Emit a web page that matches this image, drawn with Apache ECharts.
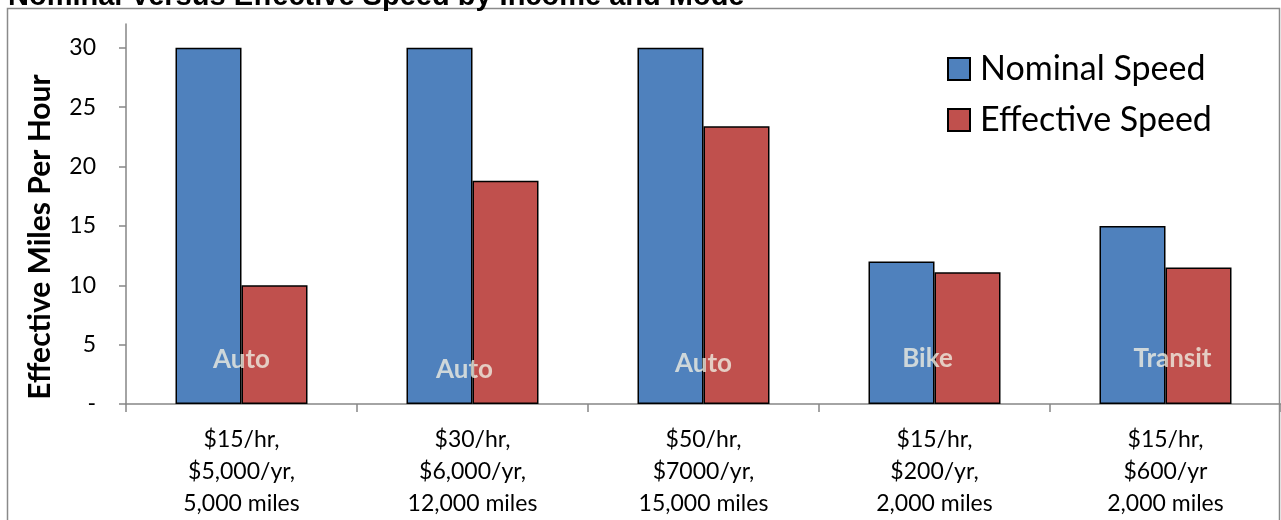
<!DOCTYPE html>
<html>
<head>
<meta charset="utf-8">
<title>Nominal Versus Effective Speed by Income and Mode</title>
<script src="https://cdn.jsdelivr.net/npm/echarts@6/dist/echarts.min.js"></script>
<style>
  html, body { margin: 0; padding: 0; background: #ffffff; }
  #chart { width: 1281px; height: 520px; }
</style>
</head>
<body>
<div id="chart"></div>
<script>
// Income / cost / mileage scenarios along the x axis
const categories = [
  '$15/hr,\n$5,000/yr,\n5,000 miles',
  '$30/hr,\n$6,000/yr,\n12,000 miles',
  '$50/hr,\n$7000/yr,\n15,000 miles',
  '$15/hr,\n$200/yr,\n2,000 miles',
  '$15/hr,\n$600/yr\n2,000 miles'
];
// Travel mode for each scenario
const modes = ['Auto', 'Auto', 'Auto', 'Bike', 'Transit'];
// Speeds in miles per hour
const nominalSpeed = [30, 30, 30, 12, 15];
const effectiveSpeed = [10, 18.8, 23.4, 11.1, 11.5];
// Y axis tick values
const yTicks = [0, 5, 10, 15, 20, 25, 30];

// Layout of the mode captions inside the bar pairs (mph height, px shift)
const modeCaptionHeight = [3.75, 2.9, 3.4, 3.8, 3.8];
const modeCaptionShift = [0, -8, 0, -7, 7];

const BLUE = '#4F81BD';
const RED = '#C0504D';
const AXIS_GREY = '#868686';
const FONT = 'Lato, "Open Sans", sans-serif';

const chart = echarts.init(document.getElementById('chart'), null, { renderer: 'canvas' });

const modeCaptions = modes.map((m, i) => ({
  value: [i, modeCaptionHeight[i]],
  name: m,
  label: { offset: [modeCaptionShift[i], 0] }
}));

chart.setOption({
  backgroundColor: '#ffffff',
  animation: false,
  graphic: [
    {
      type: 'rect',
      shape: { x: 7.5, y: 8.5, width: 1272, height: 560 },
      style: { fill: 'none', stroke: '#8a8a8a', lineWidth: 1.5 },
      z: 0
    },
    {
      type: 'text',
      x: 8, y: 11,
      style: {
        text: 'Nominal Versus Effective Speed by Income and Mode',
        font: 'bold 29px "Liberation Sans", Arial, sans-serif',
        fill: '#000000',
        textVerticalAlign: 'bottom'
      }
    },
    {
      type: 'text',
      x: 40, y: 237,
      rotation: Math.PI / 2,
      style: {
        text: 'Effective Miles Per Hour',
        font: 'bold 30px ' + FONT,
        fill: '#000000',
        textAlign: 'center',
        textVerticalAlign: 'middle'
      }
    }
  ],
  legend: {
    data: ['Nominal Speed', 'Effective Speed'],
    orient: 'vertical',
    left: 947,
    top: 52,
    padding: 0,
    itemWidth: 22,
    itemHeight: 22,
    itemGap: 17,
    icon: 'rect',
    textStyle: {
      fontFamily: FONT,
      fontSize: 34,
      color: '#000000',
      padding: [0, 0, 0, 5]
    }
  },
  grid: {
    left: 126,
    right: 0,
    top: 24,
    bottom: 113,
    containLabel: false
  },
  xAxis: {
    type: 'category',
    data: categories,
    axisLine: { show: true, lineStyle: { color: AXIS_GREY, width: 1.5 } },
    axisTick: { show: true, length: 8, lineStyle: { color: AXIS_GREY, width: 1.5 } },
    axisLabel: {
      fontFamily: FONT,
      fontSize: 23,
      lineHeight: 32,
      color: '#000000',
      margin: 20,
      interval: 0
    },
    splitLine: { show: false }
  },
  yAxis: {
    type: 'value',
    min: 0,
    max: 32,
    interval: 5,
    axisLine: { show: true, lineStyle: { color: AXIS_GREY, width: 1.5 } },
    axisTick: { show: true, length: 7, customValues: yTicks, lineStyle: { color: AXIS_GREY, width: 1.5 } },
    axisLabel: {
      customValues: yTicks,
      fontFamily: FONT,
      fontSize: 23,
      color: '#000000',
      margin: 30,
      formatter: v => (v === 0 ? '-' : String(v))
    },
    splitLine: { show: false }
  },
  series: [
    {
      name: 'Nominal Speed',
      type: 'bar',
      data: nominalSpeed,
      barWidth: 66,
      barGap: '0%',
      itemStyle: { color: BLUE, borderColor: '#000000', borderWidth: 1.5 },
      z: 2
    },
    {
      name: 'Effective Speed',
      type: 'bar',
      data: effectiveSpeed,
      barWidth: 66,
      barGap: '0%',
      itemStyle: { color: RED, borderColor: '#000000', borderWidth: 1.5 },
      z: 2
    },
    {
      name: 'Mode',
      type: 'scatter',
      data: modeCaptions,
      symbolSize: 0,
      silent: true,
      z: 5,
      label: {
        show: true,
        position: 'inside',
        formatter: p => p.name,
        fontFamily: FONT,
        fontWeight: 'bold',
        fontSize: 26,
        color: '#EEECE1'
      }
    }
  ]
});
</script>
</body>
</html>
